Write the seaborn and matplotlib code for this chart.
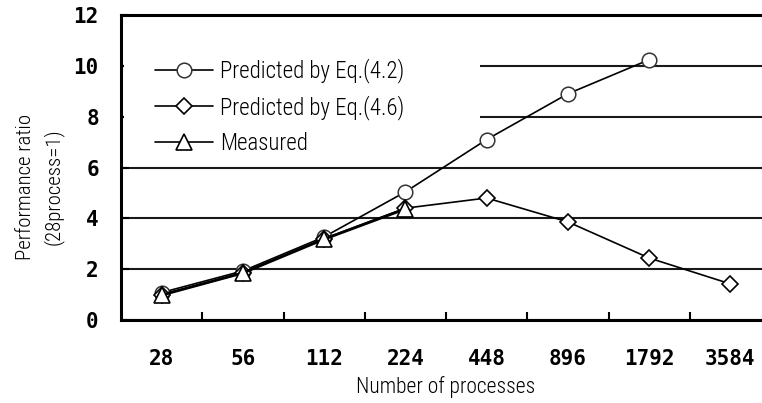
import matplotlib
matplotlib.use("Agg")
import matplotlib.pyplot as plt
import seaborn as sns
from matplotlib.patches import Rectangle

# ---- data ----
categories = ["28", "56", "112", "224", "448", "896", "1792", "3584"]
eq42 = [1.08, 1.93, 3.27, 5.04, 7.1, 8.9, 10.24]
eq46 = [1.0, 1.85, 3.2, 4.4, 4.8, 3.86, 2.44, 1.42]
measured = [0.98, 1.85, 3.18, 4.37]
series_labels = ["Predicted by Eq.(4.2)", "Predicted by Eq.(4.6)", "Measured"]
yticks = [0, 2, 4, 6, 8, 10, 12]

sns.set_style("white")
narrow = ["Roboto Condensed", "DejaVu Sans"]
tickfont = ["DejaVu Sans Mono", "DejaVu Sans"]
plt.rcParams["font.family"] = narrow
plt.rcParams["text.color"] = "black"
plt.rcParams["axes.labelcolor"] = "black"

fig = plt.figure(figsize=(7.62, 4.03), dpi=100)
ax = fig.add_axes([121 / 762, 1 - 320 / 403, 650 / 762, 305 / 403])

pos = list(range(len(categories)))

common = dict(color="black", markerfacecolor="white", ax=ax)
sns.lineplot(x=pos[:len(eq42)], y=eq42, marker="o", markersize=10.5,
             markeredgecolor="#333333", markeredgewidth=1.1, linewidth=1.2,
             label=series_labels[0], zorder=3, **common)
sns.lineplot(x=pos[:len(eq46)], y=eq46, marker="D", markersize=8.6,
             markeredgecolor="black", markeredgewidth=1.2, linewidth=1.2,
             label=series_labels[1], zorder=4, **common)
sns.lineplot(x=pos[:len(measured)], y=measured, marker="^", markersize=12,
             markeredgecolor="black", markeredgewidth=1.2, linewidth=2.0,
             label=series_labels[2], zorder=5, **common)

ax.set_xlim(-0.5, len(categories) - 0.5)
ax.set_ylim(0, 12)

# y axis
ax.set_yticks(yticks)
ax.set_yticklabels([str(v) for v in yticks], fontfamily=tickfont,
                   fontweight="bold", fontsize=15)
ax.tick_params(axis="y", direction="in", length=6, width=1.5, pad=16,
               left=True, colors="black")
ax.yaxis.grid(True, color="#1a1a1a", linewidth=1.5)
ax.set_axisbelow(True)

# x axis: labels at category centres, tick marks at category borders
ax.set_xticks(pos)
ax.set_xticklabels(categories, fontfamily=tickfont, fontweight="bold",
                   fontsize=15)
ax.set_xticks([p + 0.5 for p in pos[:-1]], minor=True)
ax.tick_params(axis="x", which="major", length=0, pad=21, colors="black")
ax.tick_params(axis="x", which="minor", direction="in", length=6,
               width=1.5, bottom=True, colors="black")

for s in ["left", "bottom", "top"]:
    ax.spines[s].set_visible(True)
    ax.spines[s].set_color("black")
    ax.spines[s].set_linewidth(2.2)
ax.spines["right"].set_visible(False)

ax.set_xlabel("Number of processes", fontsize=15.5, labelpad=5,
              fontweight="light")
ax.set_ylabel("Performance ratio\n(28process=1)", fontsize=15,
              multialignment="center", linespacing=1.5, fontweight="light")
ax.yaxis.set_label_coords(-0.088, 0.436)

# white legend area covering the upper grid lines
ax.add_patch(Rectangle((0.004, 0.56), 0.548, 0.415, transform=ax.transAxes,
                       facecolor="white", edgecolor="none", zorder=1.5))
leg = ax.legend(loc="upper left", bbox_to_anchor=(0.038, 0.888),
                frameon=False, prop={"size": 16.5, "weight": "light"},
                handlelength=2.55, handletextpad=0.3, labelspacing=0.52,
                borderaxespad=0)
for h in leg.legend_handles:
    h.set_linewidth(1.2)

fig.savefig("out.png", dpi=100)
